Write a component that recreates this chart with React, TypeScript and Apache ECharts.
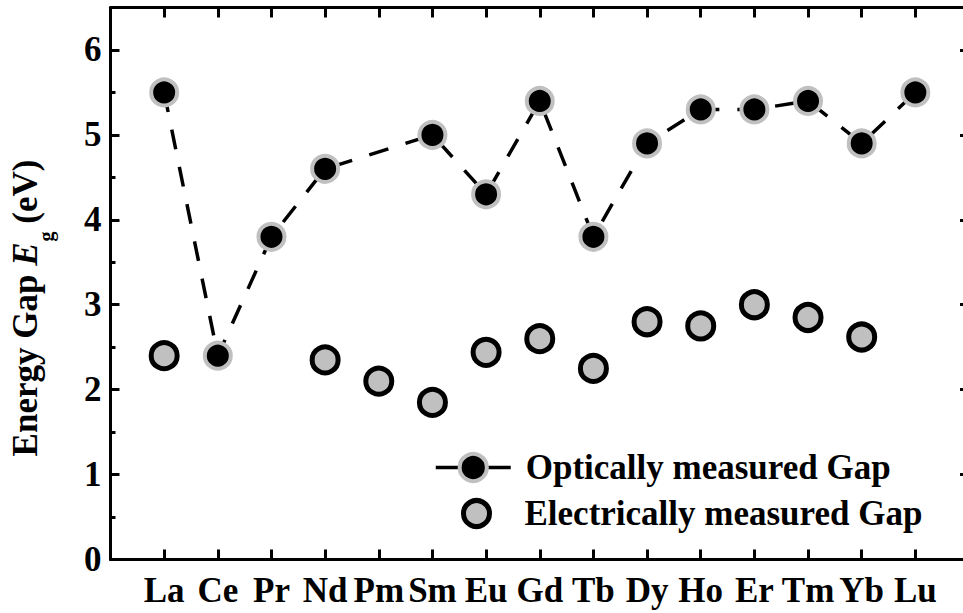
import React, { useEffect, useRef } from 'react';
import * as echarts from 'echarts';

const elements = ['La', 'Ce', 'Pr', 'Nd', 'Pm', 'Sm', 'Eu', 'Gd', 'Tb', 'Dy', 'Ho', 'Er', 'Tm', 'Yb', 'Lu'];
const opticalGap: (number | null)[] = [5.5, 2.4, 3.8, 4.6, null, 5.0, 4.3, 5.4, 3.8, 4.9, 5.3, 5.3, 5.4, 4.9, 5.5];
const electricalGap: (number | null)[] = [2.4, null, null, 2.35, 2.1, 1.85, 2.44, 2.6, 2.25, 2.8, 2.75, 3.0, 2.85, 2.62, null];
const yTickLabels = ['0', '1', '2', '3', '4', '5', '6'];

const FONT = '"Liberation Serif", "Times New Roman", serif';
const FS = 35;

function measure(text: string, font: string): number {
  const c = document.createElement('canvas').getContext('2d');
  if (!c) return text.length * 15;
  c.font = font;
  return c.measureText(text).width;
}

export default function App() {
  const ref = useRef<HTMLDivElement>(null);
  useEffect(() => {
    if (!ref.current) return;
    const chart = echarts.init(ref.current, undefined, { renderer: 'svg' });

    const toPairs = (arr: (number | null)[]) =>
      arr.map((v, i) => (v == null ? null : [i + 1, v])).filter((d) => d != null);

    const axisLineStyle = { color: '#000', width: 3 };
    const xAxisBase = {
      type: 'value',
      min: 0,
      max: 16,
      interval: 1,
      splitLine: { show: false },
      axisLine: { show: true, onZero: false, lineStyle: axisLineStyle },
      axisTick: { show: true, inside: true, length: 10, lineStyle: { color: '#000', width: 3 } },
    };
    const yMajor = {
      type: 'value',
      min: 0,
      max: 6.5,
      interval: 1,
      splitLine: { show: false },
      axisLine: { show: true, onZero: false, lineStyle: axisLineStyle },
      axisTick: { show: true, inside: true, length: 9, lineStyle: { color: '#000', width: 3 } },
    };
    const yMinor = {
      type: 'value',
      min: 0,
      max: 6.5,
      interval: 0.5,
      splitLine: { show: false },
      axisLine: { show: false, onZero: false },
      axisLabel: { show: false },
      axisTick: { show: true, inside: true, length: 5, lineStyle: { color: '#000', width: 3 } },
    };

    const mainFont = `bold ${FS}px ${FONT}`;
    const w1 = measure('Energy Gap ', mainFont);
    const w2 = measure('E', `italic bold ${FS}px ${FONT}`);
    const w3 = measure('g', `bold 20px ${FONT}`);
    const w4 = measure(' (eV)', mainFont);
    const W = w1 + w2 + w3 + w4;
    const s0 = -W / 2;

    const legendText = { color: '#000', fontSize: FS, fontWeight: 'bold', fontFamily: FONT };

    chart.setOption({
      animation: false,
      backgroundColor: '#fff',
      grid: { left: 110.5, right: -6, top: 7.5, bottom: 53.5, containLabel: false, outerBoundsMode: 'none' },
      xAxis: [
        {
          ...xAxisBase,
          position: 'bottom',
          axisLabel: {
            show: true,
            margin: 13,
            color: '#000',
            fontSize: FS,
            fontWeight: 'bold',
            fontFamily: FONT,
            formatter: (v: number) => (Number.isInteger(v) && v >= 1 && v <= elements.length ? elements[v - 1] : ''),
          },
        },
        { ...xAxisBase, position: 'top', axisLabel: { show: false } },
      ],
      yAxis: [
        {
          ...yMajor,
          position: 'left',
          axisLabel: {
            show: true,
            margin: 9,
            color: '#000',
            fontSize: FS,
            fontWeight: 'bold',
            fontFamily: FONT,
            formatter: (v: number) => (Number.isInteger(v) ? yTickLabels[v] ?? '' : ''),
          },
        },
        { ...yMinor, position: 'left' },
        { ...yMajor, position: 'right', axisLabel: { show: false } },
        { ...yMinor, position: 'right' },
      ],
      legend: [
        {
          data: [
            {
              name: 'Optically measured Gap',
              itemStyle: { color: '#000', borderColor: '#c0c0c0', borderWidth: 4 },
              lineStyle: { color: '#000', width: 3.5, type: 'solid' },
            },
          ],
          orient: 'vertical',
          left: 429,
          top: 445,
          itemWidth: 75,
          itemHeight: 34,
          selectedMode: false,
          textStyle: { ...legendText, padding: [0, 0, 0, 10] },
        },
        {
          data: [
            {
              name: 'Electrically measured Gap',
              itemStyle: { color: '#c0c0c0', borderColor: '#000', borderWidth: 5 },
            },
          ],
          orient: 'vertical',
          left: 456,
          top: 491,
          itemWidth: 26,
          itemHeight: 26,
          selectedMode: false,
          textStyle: { ...legendText, padding: [0, 0, 0, 30] },
        },
      ],
      graphic: [
        {
          type: 'group',
          x: 25.5,
          y: 308,
          rotation: Math.PI / 2,
          children: [
            { type: 'text', x: s0, y: 0, style: { text: 'Energy Gap ', fontSize: FS, fontWeight: 'bold', fontFamily: FONT, fill: '#000', align: 'left', verticalAlign: 'middle' } },
            { type: 'text', x: s0 + w1, y: 0, style: { text: 'E', fontSize: FS, fontWeight: 'bold', fontStyle: 'italic', fontFamily: FONT, fill: '#000', align: 'left', verticalAlign: 'middle' } },
            { type: 'text', x: s0 + w1 + w2 + 1, y: 20, style: { text: 'g', fontSize: 20, fontWeight: 'bold', fontFamily: FONT, fill: '#000', align: 'left', verticalAlign: 'middle' } },
            { type: 'text', x: s0 + w1 + w2 + w3, y: 0, style: { text: ' (eV)', fontSize: FS, fontWeight: 'bold', fontFamily: FONT, fill: '#000', align: 'left', verticalAlign: 'middle' } },
          ],
        },
      ],
      series: [
        {
          name: 'Electrically measured Gap',
          type: 'scatter',
          xAxisIndex: 0,
          yAxisIndex: 0,
          z: 2,
          symbol: 'circle',
          symbolSize: 26,
          itemStyle: { color: '#c0c0c0', borderColor: '#000', borderWidth: 5, opacity: 1 },
          data: toPairs(electricalGap),
        },
        {
          name: 'Optically measured Gap',
          type: 'line',
          xAxisIndex: 0,
          yAxisIndex: 0,
          z: 3,
          symbol: 'circle',
          symbolSize: 26,
          showAllSymbol: true,
          itemStyle: { color: '#000', borderColor: '#c0c0c0', borderWidth: 4, opacity: 1 },
          lineStyle: { color: '#000', width: 3.5, type: [20, 18] },
          data: toPairs(opticalGap),
        },
      ],
    });
    return () => chart.dispose();
  }, []);
  return <div ref={ref} style={{ position: 'fixed', left: 0, top: 0, width: 963, height: 613 }} />;
}
